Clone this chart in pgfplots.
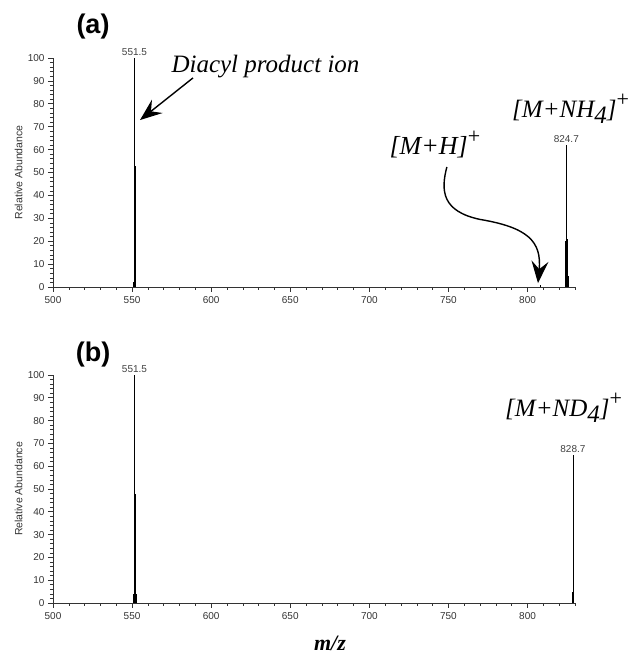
\documentclass[border=0pt]{standalone}
\usepackage{fontspec}
\setmainfont{Liberation Sans}
\newfontfamily\serif{Liberation Serif}
\usepackage{pgfplots}
\pgfplotsset{compat=1.18}
\usetikzlibrary{arrows.meta}
\pgfplotsset{
  msstyle/.style={
    scale only axis, width=522pt, height=229pt, anchor=south west,
    xmin=500, xmax=830, ymin=0, ymax=100,
    axis lines*=left, axis line style={-, line width=0.7pt, black!80},
    xtick={500,550,...,800}, minor xtick={510,520,...,830},
    ytick={0,10,...,100}, minor ytick={0,2,...,100},
    tick align=outside, major tick length=5pt, minor tick length=3pt,
    every tick/.style={line width=0.6pt, black!80},
    tick label style={font=\fontsize{10}{11}\selectfont, text=black!80},
    xticklabel style={yshift=-1pt},
    /pgf/number format/assume math mode=true,
    ylabel={Relative Abundance},
    ylabel style={font=\fontsize{10.5}{12}\selectfont, text=black!80, at={(axis description cs:-0.066,0.5)}, anchor=center},
    clip=false,
  },
  peak/.style={ycomb, black, line width=0.75pt, no markers},
}
\begin{document}
\begin{tikzpicture}[x=1pt,y=1pt]
\useasboundingbox (0,0) rectangle (631,658);
% ---------------- (a)
\begin{axis}[msstyle, at={(53pt,371pt)}]
\addplot[peak] coordinates {(550.9,2) (551.2,60) (551.5,100) (551.8,53) (552.2,3)
  (808,1) (824.2,20) (824.5,62) (824.8,54) (825.2,21) (825.5,5)};
\node[above, inner sep=2pt, font=\fontsize{10}{11}\selectfont, text=black!75] at (axis cs:551.5,100) {551.5};
\node[above, inner sep=2pt, font=\fontsize{10}{11}\selectfont, text=black!75] at (axis cs:824.5,62) {824.7};
\draw[line width=1.4pt, -{Stealth[length=22pt, width=17pt, inset=8pt]}] (axis cs:588.5,91.3) -- (axis cs:555,72.9);
\draw[line width=1.4pt, -{Stealth[length=22pt, width=17pt, inset=8pt]}]
  (axis cs:749,52.4) .. controls (axis cs:745,42) and (axis cs:746,33) .. (axis cs:770,29.5)
  .. controls (axis cs:800,26) and (axis cs:809,20) .. (axis cs:806.6,1.7);
\end{axis}
\node[font=\serif\itshape\fontsize{25}{28}\selectfont, anchor=base west] at (168,658-73) {Diacyl product ion};
\node[font=\serif\itshape\fontsize{26}{28}\selectfont, anchor=base west] at (386,658-155) {[M+H]\raisebox{11pt}{\upshape\fontsize{22}{24}\selectfont +}};
\node[font=\serif\itshape\fontsize{25}{28}\selectfont, anchor=base west, inner sep=0pt] at (512,658-118) {[M+NH\raisebox{-6pt}{4}]\raisebox{11pt}{\upshape\fontsize{22}{24}\selectfont +}};
\node[font=\bfseries\fontsize{27}{30}\selectfont] at (93,658-27) {(a)};
% ---------------- (b)
\begin{axis}[msstyle, at={(53pt,55pt)}, height=228pt]
\addplot[peak] coordinates {(550.8,4) (551.2,67) (551.5,100) (551.8,48) (552.0,31) (552.3,28) (552.8,4)
  (828.4,5) (828.7,65) (828.9,56) (829.1,24)};
\node[above, inner sep=2pt, font=\fontsize{10}{11}\selectfont, text=black!75] at (axis cs:551.5,100) {551.5};
\node[above, inner sep=2pt, font=\fontsize{10}{11}\selectfont, text=black!75] at (axis cs:828.7,65) {828.7};
\end{axis}
\node[font=\serif\itshape\fontsize{25}{28}\selectfont, anchor=base west, inner sep=0pt] at (505,658-417) {[M+ND\raisebox{-6pt}{4}]\raisebox{11pt}{\upshape\fontsize{22}{24}\selectfont +}};
\node[font=\bfseries\fontsize{27}{30}\selectfont] at (93,658-355) {(b)};
\node[font=\serif\itshape\bfseries\fontsize{22}{24}\selectfont, inner sep=1pt] at (330,658-643) {m/z};
\end{tikzpicture}
\end{document}
